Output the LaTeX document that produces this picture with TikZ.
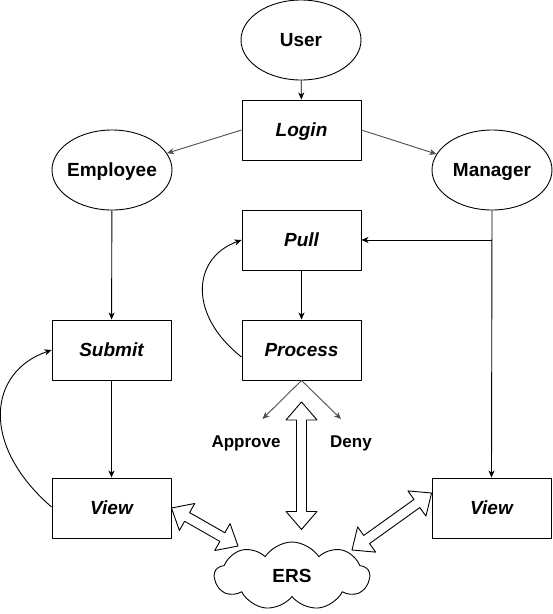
\documentclass[tikz,border=0pt]{standalone}
\usepackage{fontspec}
\setmainfont{Liberation Sans}
\usetikzlibrary{arrows.meta,calc,shapes.geometric,shapes.symbols}
\definecolor{linegray}{HTML}{4D4D4D}
\tikzset{
  every picture/.style={line join=round, >={Stealth[length=7pt,width=6pt,inset=2pt]}},
  actor/.style={draw, line width=0.9pt, ellipse, minimum width=120pt, minimum height=80pt, inner ysep=0pt,
    inner xsep=-4pt, text depth=0pt, font=\bfseries\fontsize{19}{23}\selectfont},
  task/.style={draw, line width=0.9pt, rectangle, minimum width=119pt, minimum height=60pt, inner sep=0pt,
    text depth=0pt, font=\bfseries\itshape\fontsize{19}{23}\selectfont},
  choice/.style={font=\bfseries\fontsize{17}{20}\selectfont, anchor=base},
  flex/.style={draw, fill=white, line width=0.9pt},
  link/.style={->, line width=0.9pt},
  glink/.style={->, linegray, line width=0.9pt},
}
% open double arrow between two points
\newcommand{\flexarrow}[2]{%
  \draw[flex] (#1) -- ($(#1)!18pt!(#2)!15.5pt!90:(#2)$) -- ($(#1)!18pt!(#2)!5pt!90:(#2)$)
    -- ($(#2)!18pt!(#1)!5pt!-90:(#1)$) -- ($(#2)!18pt!(#1)!15.5pt!-90:(#1)$) -- (#2)
    -- ($(#2)!18pt!(#1)!15.5pt!90:(#1)$) -- ($(#2)!18pt!(#1)!5pt!90:(#1)$)
    -- ($(#1)!18pt!(#2)!5pt!-90:(#2)$) -- ($(#1)!18pt!(#2)!15.5pt!-90:(#2)$) -- cycle;}

\begin{document}
\begin{tikzpicture}[x=1pt,y=-1pt]
\useasboundingbox (0,0) rectangle (553,614);

\node[actor] (user) at (301,40) {User};
\node[task] (login) at (301.5,130) {Login};
\node[actor] (employee) at (112,170) {Employee};
\node[actor] (manager) at (492,170) {Manager};
\node[task] (pull) at (301.5,240) {Pull};
\node[task] (process) at (301.5,350) {Process};
\node[task] (submit) at (111.5,350) {Submit};
\node[task] (viewE) at (111.5,508) {View};
\node[task] (viewM) at (491.5,508) {View};
\node[cloud, draw, line width=0.9pt, cloud puffs=9, cloud puff arc=115, aspect=2.3, minimum width=155pt,
  minimum height=68pt, inner sep=0pt, text depth=0pt, font=\bfseries\fontsize{19}{23}\selectfont] (ers) at (292,576) {ERS};
\node[choice] (approve) at (246,447) {Approve};
\node[choice] (deny) at (351,447) {Deny};

\coordinate (ap) at (262.5,419);
\coordinate (dn) at (341,419);
\coordinate (up) at ($(process.south)+(0,21.5)$);
\coordinate (dw) at ($(process.south)+(0,149)$);
\coordinate (eL) at ($(ers.center)+(-54,-30)$);
\coordinate (eR) at ($(ers.center)+(60,-26)$);
\coordinate (mL) at ($(viewM.west)+(0,-15)$);

\draw[link] (user) -- (login);
\draw[glink] (login.west) -- (employee.17);
\draw[glink] (login.east) -- (manager.164);
\draw[link] (employee) -- (submit);
\draw[link] (submit) -- (viewE);
\draw[link] (manager.south) -- (viewM.north);
\draw[link] (manager.south |- pull.east) -- (pull.east);
\draw[link] (pull) -- (process);
\draw[glink] (process.south) -- (ap);
\draw[glink] (process.south) -- (dn);
\draw[link] ($(viewE.west)+(0,-1)$) .. controls (-20,445) and (-12,372) .. (submit.west);
\draw[link] ($(process.west)+(0,7)$) .. controls (188,315) and (192,258) .. (pull.west);

\flexarrow{up}{dw}
\flexarrow{viewE.east}{eL}
\flexarrow{eR}{mL}
\end{tikzpicture}
\end{document}
